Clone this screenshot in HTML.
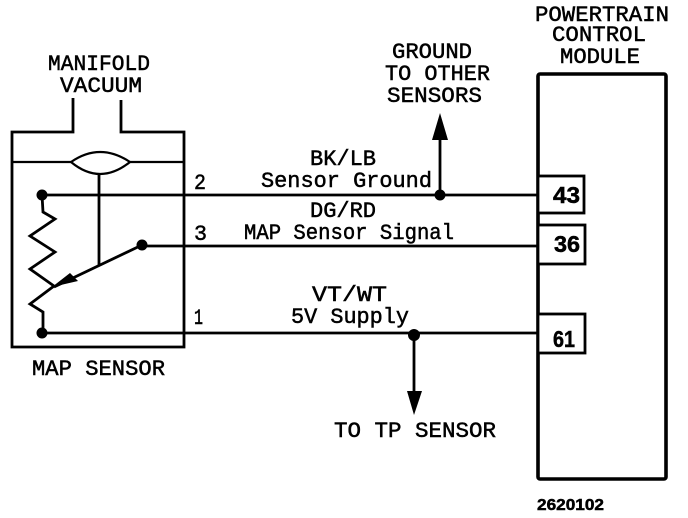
<!DOCTYPE html>
<html><head><meta charset="utf-8"><style>
html,body{margin:0;padding:0;background:#fff}
svg{display:block}
text{font-family:"Liberation Mono",monospace;fill:#000;stroke:#000;stroke-width:.5}
text.b{font-family:"Liberation Sans",sans-serif;font-weight:bold}
</style></head><body>
<svg width="688" height="518" viewBox="0 0 688 518" xmlns="http://www.w3.org/2000/svg">
<g fill="none" stroke="#000" stroke-width="2.8">
<path d="M73 98V132H12V347H184V132H121V100" />
<path d="M12 162H71M130 162H184" stroke-width="2.2"/>
<path d="M71 162Q100 142 130 162Q100 186 71 162Z" stroke-width="2.2"/>
<path d="M99 175V265" />
<path d="M142 245L54 287" />
<path d="M42 195L43 212L55 219L30 236L55 252L30 269L54 286L30 304L43 312L43 333" />
<path d="M42 195H537" />
<path d="M142 246H538" />
<path d="M42 333H538" />
<path d="M440 195V135" />
<path d="M414 334V395" />
<rect x="538" y="74" width="128" height="405" rx="2" stroke-width="3.6"/>
<rect x="538" y="176" width="46" height="37" fill="#fff"/>
<rect x="538" y="225" width="47" height="39" fill="#fff"/>
<rect x="538" y="314" width="47" height="39" fill="#fff"/>
</g>
<g fill="#000">
<circle cx="42" cy="195" r="5.5"/>
<circle cx="42" cy="333" r="5.5"/>
<circle cx="142" cy="245" r="5.5"/>
<circle cx="440" cy="195" r="5.5"/>
<circle cx="414" cy="335" r="6"/>
<path d="M52 287L70 273L78 281Z"/>
<path d="M440 113L448 140H432Z"/>
<path d="M414 415L407 391H422Z"/>
</g>
<g font-size="22">
<text x="48" y="70" textLength="102" lengthAdjust="spacingAndGlyphs">MANIFOLD</text>
<text x="60" y="92" textLength="82" lengthAdjust="spacingAndGlyphs">VACUUM</text>
<text x="32" y="375" textLength="133" lengthAdjust="spacingAndGlyphs">MAP SENSOR</text>
<text x="194" y="189" textLength="12" lengthAdjust="spacingAndGlyphs">2</text>
<text x="194" y="240" textLength="13" lengthAdjust="spacingAndGlyphs">3</text>
<text x="194" y="324" textLength="9" lengthAdjust="spacingAndGlyphs">1</text>
<text x="392" y="58" textLength="80" lengthAdjust="spacingAndGlyphs">GROUND</text>
<text x="385" y="80" textLength="105" lengthAdjust="spacingAndGlyphs">TO OTHER</text>
<text x="387" y="102" textLength="95" lengthAdjust="spacingAndGlyphs">SENSORS</text>
<text x="310" y="165" textLength="66" lengthAdjust="spacingAndGlyphs">BK/LB</text>
<text x="261" y="187" textLength="171" lengthAdjust="spacingAndGlyphs">Sensor Ground</text>
<text x="310" y="217" textLength="66" lengthAdjust="spacingAndGlyphs">DG/RD</text>
<text x="244" y="239" textLength="210" lengthAdjust="spacingAndGlyphs">MAP Sensor Signal</text>
<text x="312" y="301" textLength="75" lengthAdjust="spacingAndGlyphs">VT/WT</text>
<text x="291" y="323" textLength="118" lengthAdjust="spacingAndGlyphs">5V Supply</text>
<text x="334" y="437" textLength="162" lengthAdjust="spacingAndGlyphs">TO TP SENSOR</text>
<text x="535" y="21" textLength="134" lengthAdjust="spacingAndGlyphs">POWERTRAIN</text>
<text x="552" y="41" textLength="94" lengthAdjust="spacingAndGlyphs">CONTROL</text>
<text x="560" y="63" textLength="80" lengthAdjust="spacingAndGlyphs">MODULE</text>
</g>
<g font-size="23">
<text class="b" x="553" y="203" textLength="27" lengthAdjust="spacingAndGlyphs">43</text>
<text class="b" x="554" y="252" textLength="26" lengthAdjust="spacingAndGlyphs">36</text>
<text class="b" x="553" y="347" textLength="22" lengthAdjust="spacingAndGlyphs">61</text>
</g>
<text class="b" x="537" y="510" font-size="16" textLength="67" lengthAdjust="spacingAndGlyphs">2620102</text>
</svg>
</body></html>
